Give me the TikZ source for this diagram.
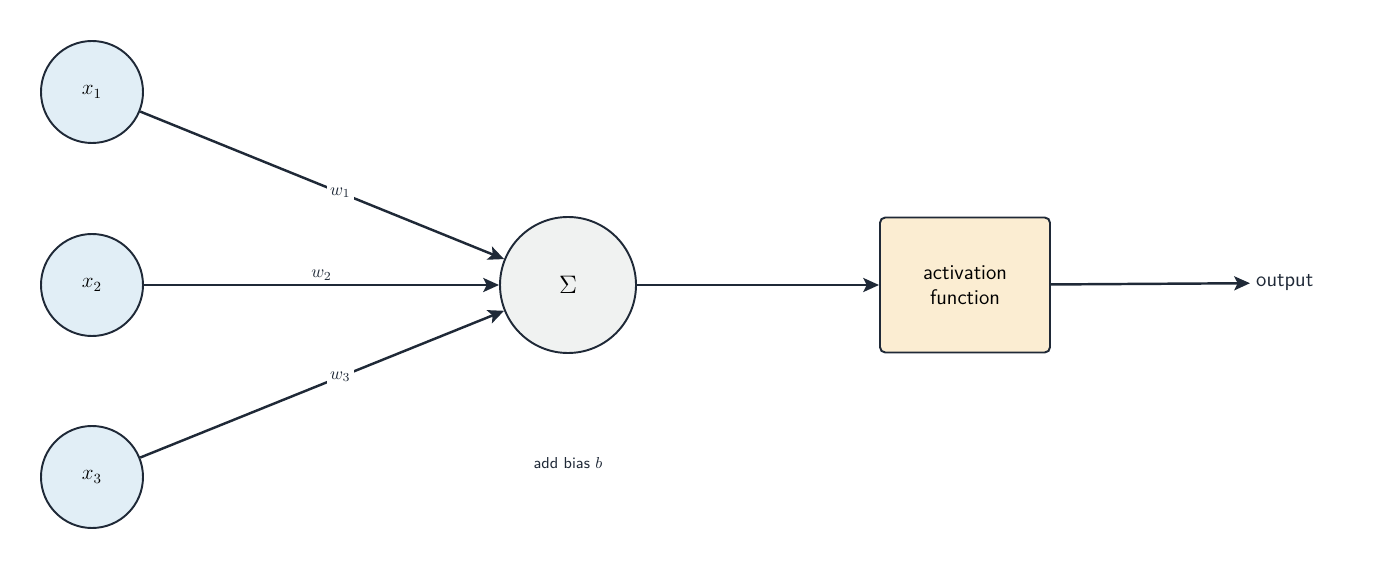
\documentclass[tikz,border=0pt]{standalone}
\usetikzlibrary{arrows.meta}
\definecolor{ink}{HTML}{1F2937}
\definecolor{inblue}{HTML}{E1EEF6}
\definecolor{sumgray}{HTML}{F0F2F1}
\definecolor{actfill}{HTML}{FBEDD2}
\begin{document}
\begin{tikzpicture}[x=0.02cm,y=-0.02cm,
  inp/.style={circle,draw=ink,fill=inblue,line width=1.1pt,minimum size=102*0.02cm,inner sep=0pt,font=\large},
  sum/.style={circle,draw=ink,fill=sumgray,line width=1.1pt,minimum size=136*0.02cm,inner sep=0pt,font=\Large},
  act/.style={draw=ink,fill=actfill,line width=1.1pt,rounded corners=3pt,minimum width=170*0.02cm,minimum height=135*0.02cm,align=center,font=\sffamily\large},
  conn/.style={draw=ink,line width=1.4pt,-{Stealth[length=9pt,width=8pt,inset=2pt]}},
  wl/.style={fill=white,inner sep=2pt,text=ink,font=\normalsize}]
\useasboundingbox (0,0) rectangle (1388,570);
\node[inp] (x1) at (92,92) {$x_1$};
\node[inp] (x2) at (92,285) {$x_2$};
\node[inp] (x3) at (92,477) {$x_3$};
\node[sum] (s) at (568,285) {$\Sigma$};
\node[act] (a) at (965,285) {activation\\function};
\node[font=\sffamily\large,text=ink,anchor=west] (o) at (1250,283) {output};
\node[font=\sffamily\small,text=ink] (b) at (568,463) {add bias $b$};
\draw[conn] (x1) -- node[wl,pos=0.55]{$w_1$} (s);
\draw[conn] (x2) -- node[pos=0.5,above,inner sep=2pt,text=ink]{$w_2$} (s);
\draw[conn] (x3) -- node[wl,pos=0.55]{$w_3$} (s);
\draw[conn] (s) -- (a);
\draw[conn] (a) -- (o);
\end{tikzpicture}
\end{document}
